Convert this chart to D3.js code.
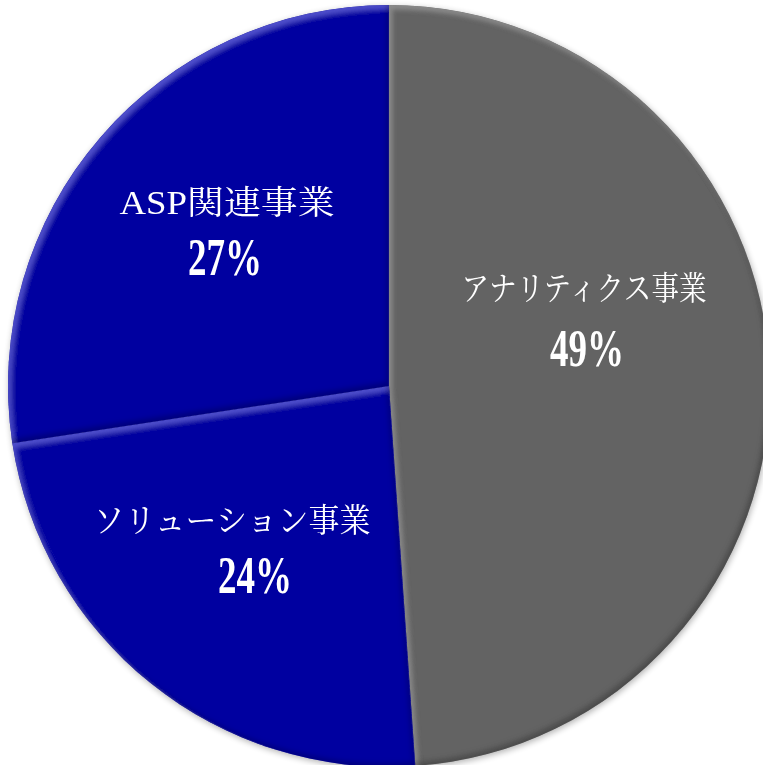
<!DOCTYPE html>
<html>
<head>
<meta charset="utf-8">
<script src="https://cdn.jsdelivr.net/npm/d3@7"></script>
<style>
  html, body { margin: 0; padding: 0; background: #fff; overflow: hidden; }
  svg { display: block; }
</style>
</head>
<body>
<div id="chart"></div>
<script>
// segment data (clockwise from 12 o'clock)
var segments = ["アナリティクス事業", "ソリューション事業", "ASP関連事業"];
var shares = [0.489, 0.237, 0.274];
var colors = ["#646464", "#0505a0", "#0505a0"];

(function () {
  var width = 763, height = 765;
  var cx = 389, cy = 386, radius = 381;

  // label placement tweaks (Excel best-fit placement, not pure centroid)
  var labelPos = [[584, 300], [232, 532], [227, 214]];
  var nameLen = [245, 277, 215];
  var pctDx = [3, 23, -2];
  var pctDy = [66, 61, 61];

  var svg = d3.select("#chart").append("svg")
    .attr("width", width)
    .attr("height", height);

  var defs = svg.append("defs");

  // bevel: brighter upper-left edges, darker lower-right edges
  var f = defs.append("filter").attr("id", "bevel")
    .attr("x", "-5%").attr("y", "-5%").attr("width", "110%").attr("height", "110%");
  f.append("feGaussianBlur").attr("in", "SourceAlpha").attr("stdDeviation", 2.5).attr("result", "blur");
  f.append("feOffset").attr("in", "blur").attr("dx", 3).attr("dy", 4).attr("result", "offDR");
  f.append("feComposite").attr("in", "SourceAlpha").attr("in2", "offDR").attr("operator", "out").attr("result", "hiMask");
  var bright = f.append("feComponentTransfer").attr("in", "SourceGraphic").attr("result", "light");
  bright.append("feFuncR").attr("type", "linear").attr("slope", 1.5).attr("intercept", 0.08);
  bright.append("feFuncG").attr("type", "linear").attr("slope", 1.5).attr("intercept", 0.08);
  bright.append("feFuncB").attr("type", "linear").attr("slope", 1.5).attr("intercept", 0.08);
  f.append("feComposite").attr("in", "light").attr("in2", "hiMask").attr("operator", "in").attr("result", "hi");
  f.append("feOffset").attr("in", "blur").attr("dx", -3).attr("dy", -4).attr("result", "offUL");
  f.append("feComposite").attr("in", "SourceAlpha").attr("in2", "offUL").attr("operator", "out").attr("result", "shMask");
  f.append("feFlood").attr("flood-color", "#000000").attr("flood-opacity", 0.4);
  f.append("feComposite").attr("in2", "shMask").attr("operator", "in").attr("result", "sh");
  var m = f.append("feMerge");
  m.append("feMergeNode").attr("in", "SourceGraphic");
  m.append("feMergeNode").attr("in", "hi");
  m.append("feMergeNode").attr("in", "sh");

  // soft outer shadow of the whole pie
  var s = defs.append("filter").attr("id", "shadow")
    .attr("x", "-10%").attr("y", "-10%").attr("width", "120%").attr("height", "120%");
  s.append("feGaussianBlur").attr("in", "SourceAlpha").attr("stdDeviation", 3).attr("result", "b");
  s.append("feOffset").attr("in", "b").attr("dx", 1).attr("dy", 2).attr("result", "o");
  s.append("feComponentTransfer").attr("in", "o").attr("result", "o2")
    .append("feFuncA").attr("type", "linear").attr("slope", 0.3);
  var sm = s.append("feMerge");
  sm.append("feMergeNode").attr("in", "o2");
  sm.append("feMergeNode").attr("in", "SourceGraphic");

  var pie = d3.pie().sort(null).value(function (d) { return d; });
  var arc = d3.arc().innerRadius(0).outerRadius(radius);

  var g = svg.append("g")
    .attr("transform", "translate(" + cx + "," + cy + ")")
    .attr("filter", "url(#shadow)");

  var arcs = pie(shares);

  g.selectAll("path.slice")
    .data(arcs)
    .enter().append("path")
    .attr("class", "slice")
    .attr("d", arc)
    .attr("fill", function (d, i) { return colors[i]; })
    .attr("filter", "url(#bevel)");

  var fmt = d3.format(".0%");

  var labels = svg.selectAll("g.label")
    .data(arcs)
    .enter().append("g")
    .attr("class", "label")
    .attr("transform", function (d, i) {
      return "translate(" + labelPos[i][0] + "," + labelPos[i][1] + ")";
    });

  labels.append("text")
    .attr("text-anchor", "middle")
    .attr("fill", "#fff")
    .style("font-family", "'Liberation Serif', 'Noto Serif CJK JP', 'Noto Sans CJK JP', serif")
    .style("font-size", "33px")
    .attr("textLength", function (d, i) { return nameLen[i]; })
    .attr("lengthAdjust", "spacingAndGlyphs")
    .text(function (d, i) { return segments[i]; });

  labels.append("text")
    .attr("text-anchor", "middle")
    .attr("x", function (d, i) { return pctDx[i]; })
    .attr("y", function (d, i) { return pctDy[i]; })
    .attr("fill", "#fff")
    .style("font-family", "'Liberation Serif', serif")
    .style("font-weight", "bold")
    .style("font-size", "52px")
    .attr("textLength", 74)
    .attr("lengthAdjust", "spacingAndGlyphs")
    .text(function (d) { return fmt(d.data); });
})();
</script>
</body>
</html>
